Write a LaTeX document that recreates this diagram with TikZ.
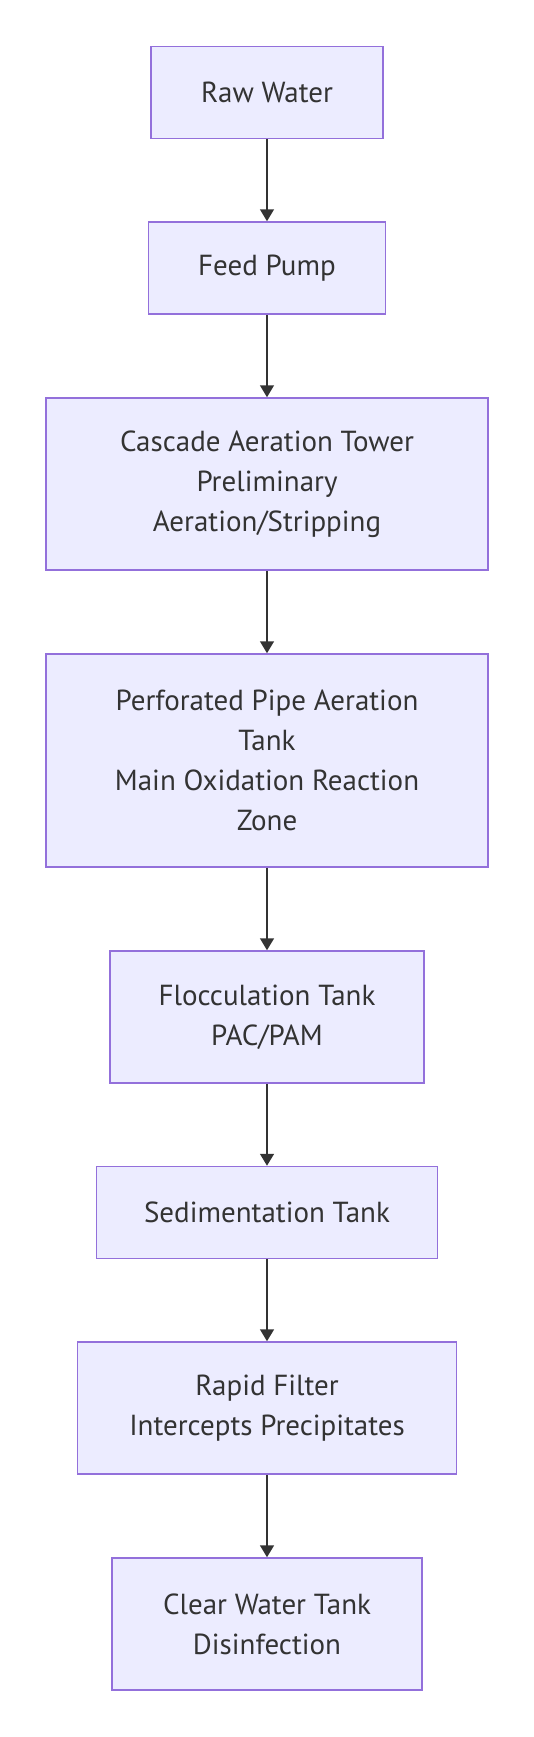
\documentclass[tikz,border=0pt]{standalone}
\usepackage{fontspec}
\setmainfont{PT Sans}
\usetikzlibrary{arrows.meta}
\definecolor{boxfill}{HTML}{ECECFF}
\definecolor{boxline}{HTML}{9370DB}
\definecolor{ink}{HTML}{333333}
\begin{document}
\begin{tikzpicture}[x=1pt,y=-1pt,
  stage/.style={draw=boxline,fill=boxfill,line width=1.5pt,inner sep=0pt,
    align=center,text=ink,font=\fontsize{29}{40}\selectfont},
  flow/.style={draw=ink,line width=1.5pt,-{Triangle[length=12pt,width=14pt]}}]
\useasboundingbox (0,0) rectangle (533,1737);
\node[stage,minimum width=232pt,minimum height=92pt] (raw) at (267,92.5) {Raw Water};
\node[stage,minimum width=237pt,minimum height=92pt] (feed) at (267,268) {Feed Pump};
\node[stage,minimum width=442pt,minimum height=172pt] (casc) at (267,484) {Cascade Aeration Tower\\Preliminary\\Aeration/Stripping};
\node[stage,minimum width=442pt,minimum height=213pt] (perf) at (267,760.5) {Perforated Pipe Aeration\\Tank\\Main Oxidation Reaction\\Zone};
\node[stage,minimum width=314pt,minimum height=132pt] (floc) at (267,1017) {Flocculation Tank\\PAC/PAM};
\node[stage,minimum width=341pt,minimum height=92pt] (sed) at (267,1212.5) {Sedimentation Tank};
\node[stage,minimum width=379pt,minimum height=132pt] (rapid) at (267,1408) {Rapid Filter\\Intercepts Precipitates};
\node[stage,minimum width=310pt,minimum height=132pt] (clear) at (267,1624) {Clear Water Tank\\Disinfection};
\draw[flow] (raw) -- (feed);
\draw[flow] (feed) -- (casc);
\draw[flow] (casc) -- (perf);
\draw[flow] (perf) -- (floc);
\draw[flow] (floc) -- (sed);
\draw[flow] (sed) -- (rapid);
\draw[flow] (rapid) -- (clear);
\end{tikzpicture}
\end{document}
